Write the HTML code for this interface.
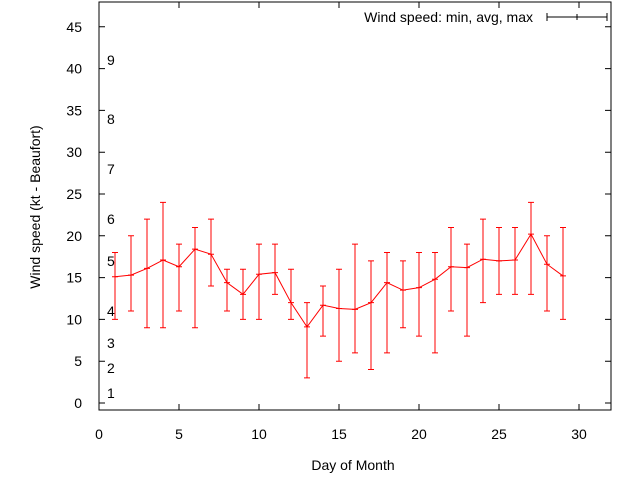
<!DOCTYPE html>
<html><head><meta charset="utf-8"><style>body{margin:0;background:#fff}svg{display:block;font-family:"Liberation Sans",sans-serif}</style></head><body>
<svg id="c" width="640" height="480" xmlns="http://www.w3.org/2000/svg"></svg>
<script>
const days=[1,2,3,4,5,6,7,8,9,10,11,12,13,14,15,16,17,18,19,20,21,22,23,24,25,26,27,28,29];
const avgs=[15.1,15.3,16.1,17.1,16.3,18.4,17.8,14.4,13.0,15.4,15.6,12.0,9.1,11.7,11.3,11.2,12.0,14.4,13.5,13.8,14.8,16.3,16.2,17.2,17.0,17.1,20.2,16.6,15.2];
const mins=[10,11,9,9,11,9,14,11,10,10,13,10,3,8,5,6,4,6,9,8,6,11,8,12,13,13,13,11,10];
const maxs=[18,20,22,24,19,21,22,16,16,19,19,16,12,14,16,19,17,18,17,18,18,21,19,22,21,21,24,20,21];
const xTicks=[0,5,10,15,20,25,30];
const yTicks=[0,5,10,15,20,25,30,35,40,45];
const bftLabels=["1","2","3","4","5","6","7","8","9"];
const bftPos=[1.2,4.2,7.2,11,17,22,28,34,41];
const X=v=>99+16*v, Y=v=>403-8.36*v;
const s=document.getElementById('c');const NS="http://www.w3.org/2000/svg";
function el(t,a,txt){const e=document.createElementNS(NS,t);for(const k in a)e.setAttribute(k,a[k]);if(txt!==undefined)e.textContent=txt;s.appendChild(e);return e;}
let f=el('rect',{x:99,y:2,width:512,height:408,fill:'none',stroke:'#000','stroke-width':1});


xTicks.forEach(v=>{const g=el('path',{d:`M${X(v)},410v-6M${X(v)},2v6`,stroke:'#000'});


const t=el('text',{x:X(v),y:439,'font-size':14,'text-anchor':'middle'},v);

});
yTicks.forEach(v=>{const g=el('path',{d:`M99,${Y(v)}h6M611,${Y(v)}h-6`,stroke:'#000'});


const t=el('text',{x:82,y:Y(v)+5,'font-size':14,'text-anchor':'end'},v);

});
bftLabels.forEach((b,i)=>{const t=el('text',{x:107,y:Y(bftPos[i])+5,'font-size':14},b);

});
let t=el('text',{x:353,y:470,'font-size':14,'text-anchor':'middle'},'Day of Month');


t=el('text',{x:40,y:207,'font-size':14,'text-anchor':'middle',transform:'rotate(-90 40 207)'},'Wind speed (kt - Beaufort)');


t=el('text',{x:533,y:22,'font-size':14,'text-anchor':'end'},'Wind speed: min, avg, max');


let g=el('path',{d:'M547,17h60M547,13v8M607,13v8M577,14v6',stroke:'#000'});


days.forEach((d,i)=>{const x=X(d);const e=el('path',{d:`M${x},${Y(mins[i])}V${Y(maxs[i])}M${x-3},${Y(mins[i])}h6M${x-3},${Y(maxs[i])}h6M${x-3},${Y(avgs[i])}h6`,stroke:'#f00','stroke-width':1});

});
const l=el('polyline',{points:days.map((d,i)=>X(d)+','+Y(avgs[i])).join(' '),fill:'none',stroke:'#f00'});


</script></body></html>
